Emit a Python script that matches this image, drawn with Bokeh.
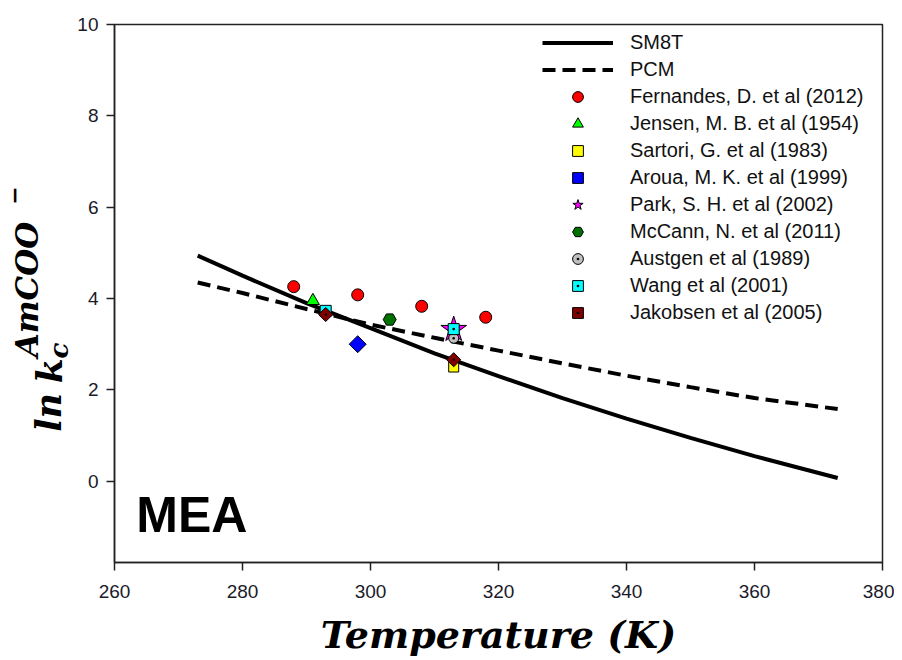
import math
from bokeh.plotting import figure
from bokeh.layouts import row
from bokeh.models import Range1d, FixedTicker, Legend, LegendItem, Label
from bokeh.core.properties import value
from bokeh.embed import file_html
from bokeh.resources import INLINE

# ---- data ----
temp_curve = [273, 280, 290, 300, 310, 320, 330, 340, 350, 360, 373]
sm8t = [4.94, 4.50, 3.90, 3.35, 2.80, 2.30, 1.82, 1.37, 0.95, 0.55, 0.07]
pcm = [4.35, 4.12, 3.77, 3.43, 3.14, 2.86, 2.58, 2.31, 2.06, 1.82, 1.58]

fern_t = [288, 298, 308, 318]
fern_k = [4.26, 4.08, 3.83, 3.59]
jensen_t = [291]
jensen_k = [3.95]
sartori_t = [313]
sartori_k = [2.50]
aroua_t = [298]
aroua_k = [3.00]
park_t = [313]
park_k = [3.32]
mccann_t = [303]
mccann_k = [3.54]
austgen_t = [313]
austgen_k = [3.13]
wang_t = [293, 313]
wang_k = [3.73, 3.33]
jakob_t = [293, 313]
jakob_k = [3.65, 2.66]

x_ticks = [260, 280, 300, 320, 340, 360, 380]
y_ticks = [0, 2, 4, 6, 8, 10]

# y-axis label pieces: text, font size (px)
ylab_text = ["ln", "k", "c", "AmCOO", "\u2212"]
ylab_size = [35, 36, 26, 31, 22]

H = 656
LW = 74

p = figure(frame_width=768, frame_height=538, title=None,
           min_border_left=114 - LW, min_border_top=24, min_border_right=12, min_border_bottom=94,
           x_range=Range1d(260, 380), y_range=Range1d(-1.78, 10),
           output_backend="svg", toolbar_location=None, background_fill_color="white")

p.xgrid.grid_line_color = None
p.ygrid.grid_line_color = None
p.outline_line_color = "#222222"
p.outline_line_width = 1.5

for ax in (p.xaxis[0], p.yaxis[0]):
    ax.axis_line_color = "#222222"
    ax.axis_line_width = 1.5
    ax.major_tick_line_color = "#222222"
    ax.major_tick_line_width = 1.5
    ax.major_tick_in = 0
    ax.major_tick_out = 8
    ax.minor_tick_line_color = None
    ax.major_label_text_font = "Liberation Sans"
    ax.major_label_text_font_size = "19px"
    ax.major_label_text_color = "#1a1a2a"

p.xaxis.ticker = FixedTicker(ticks=x_ticks)
p.yaxis.ticker = FixedTicker(ticks=y_ticks)
p.xaxis.major_label_standoff = 14
p.yaxis.major_label_standoff = 8
p.xaxis.axis_label = "Temperature (K)"
p.xaxis.axis_label_text_font = "DejaVu Serif"
p.xaxis.axis_label_text_font_style = "bold italic"
p.xaxis.axis_label_text_font_size = "38px"
p.xaxis.axis_label_text_color = "black"
p.xaxis.axis_label_standoff = 11

# curves
r_sm8t = p.line(temp_curve, sm8t, line_color="black", line_width=4)
r_pcm = p.line(temp_curve, pcm, line_color="black", line_width=4, line_dash="13 7")

# markers
r_fern = p.scatter(fern_t, fern_k, marker="circle", size=12, fill_color="#ff0000", line_color="black", line_width=1)
r_jen = p.scatter(jensen_t, jensen_k, marker="triangle", size=13, fill_color="#00ff00", line_color="black", line_width=1)
r_sar = p.scatter(sartori_t, sartori_k, marker="square", size=10, fill_color="#ffff00", line_color="black", line_width=1)
r_aro = p.scatter(aroua_t, aroua_k, marker="square", angle=math.pi / 4, size=12, fill_color="#0000ff", line_color="black", line_width=1)
r_park = p.scatter(park_t, park_k, marker="star", size=27, fill_color="#ff00ff", line_color="black", line_width=1)
r_mcc = p.scatter(mccann_t, mccann_k, marker="hex", size=13, fill_color="#007000", line_color="black", line_width=1)
r_aus = p.scatter(austgen_t, austgen_k, marker="circle_dot", size=10, fill_color="#c0c0c0", line_color="black", line_width=1)
r_wang = p.scatter(wang_t, wang_k, marker="square_dot", size=11, fill_color="#00ffff", line_color="black", line_width=1)
r_jak = p.scatter(jakob_t, jakob_k, marker="square_dot", angle=math.pi / 4, size=10, fill_color="#800000", line_color="black", line_width=1)

legend = Legend(items=[
    LegendItem(label="SM8T", renderers=[r_sm8t]),
    LegendItem(label="PCM", renderers=[r_pcm]),
    LegendItem(label="Fernandes, D. et al (2012)", renderers=[r_fern]),
    LegendItem(label="Jensen, M. B. et al (1954)", renderers=[r_jen]),
    LegendItem(label="Sartori, G. et al (1983)", renderers=[r_sar]),
    LegendItem(label="Aroua, M. K. et al (1999)", renderers=[r_aro]),
    LegendItem(label="Park, S. H. et al (2002)", renderers=[r_park]),
    LegendItem(label="McCann, N. et al (2011)", renderers=[r_mcc]),
    LegendItem(label="Austgen et al (1989)", renderers=[r_aus]),
    LegendItem(label="Wang et al (2001)", renderers=[r_wang]),
    LegendItem(label="Jakobsen et al (2005)", renderers=[r_jak]),
], location=(428, 236))
legend.glyph_width = 71
legend.glyph_height = 27
legend.label_height = 27
legend.spacing = 0
legend.label_standoff = 17
legend.padding = 0
legend.margin = 0
legend.border_line_color = None
legend.background_fill_alpha = 0
legend.label_text_font = "Liberation Sans"
legend.label_text_font_size = "20px"
legend.label_text_color = "#111111"
p.add_layout(legend)

# MEA label
p.add_layout(Label(x=263.4, y=-1.36, text="MEA", text_font="Liberation Sans",
                   text_font_style="bold", text_font_size="50px", text_color="black"))

# separate narrow figure holding the rotated y-axis label (pixel coordinates)
lab = figure(frame_width=LW, frame_height=H, title=None, x_range=Range1d(0, LW), y_range=Range1d(H, 0),
             min_border=0, x_axis_location=None, y_axis_location=None,
             output_backend="svg", toolbar_location=None, outline_line_color=None)
lab.xgrid.grid_line_color = None
lab.ygrid.grid_line_color = None
ylab_bx = [60, 60, 67, 37, 21]
ylab_by = [429, 381, 350, 352, 194]
for txt, bx, by, fs in zip(ylab_text, ylab_bx, ylab_by, ylab_size):
    lab.text(x=[bx - 0.33 * fs], y=[by - 0.62 * fs], text=[txt], angle=math.pi / 2,
             text_font=value("DejaVu Serif"), text_font_style="bold italic",
             text_font_size=f"{fs}px", text_color="black",
             text_align="left", text_baseline="alphabetic")

layout = row(lab, p, spacing=0)
open("out.html", "w").write(file_html(layout, INLINE))
